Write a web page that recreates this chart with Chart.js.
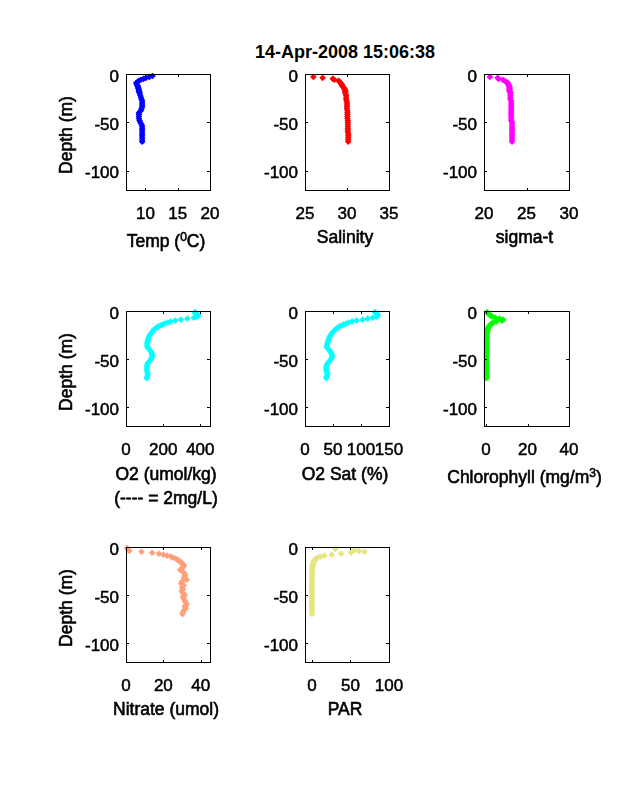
<!DOCTYPE html>
<html>
<head>
<meta charset="utf-8">
<script src="https://cdn.jsdelivr.net/npm/chart.js@4"></script>
<style>
body{margin:0;background:#fff;}
canvas{position:absolute;}
#figtitle{position:absolute;left:145px;width:400px;top:42px;text-align:center;font:bold 18px "Liberation Sans";color:#000;}
.xlabel{position:absolute;width:240px;text-align:center;font:17.5px/24px "Liberation Sans";color:#000;-webkit-text-stroke:0.6px #000;white-space:nowrap;}
.xlabel sup{font-size:12px;line-height:0;vertical-align:6px;}
.ylabel{transform:rotate(-90deg);}
</style>
</head>
<body>
<div id="figtitle">14-Apr-2008 15:06:38</div>
<script>
var depths = [-1,-2,-3,-4,-5,-6,-7,-8,-9,-10,-11,-12,-13,-14,-15,-16,-17,-18,-19,-20,-22,-24,-26,-28,-30,-32,-34,-36,-38,-40,-42,-44,-46,-48,-50,-52,-54,-56,-58,-60,-62,-64,-66,-68,-70];
var depthTicks = [-100,-50,0];

var temp = [null,11.1,10.6,10.1,9.7,9.3,9.0,8.8,8.6,8.6,8.7,8.8,8.8,8.9,8.9,9.0,9.0,9.0,9.1,9.1,9.2,9.3,9.4,9.5,9.5,9.5,9.5,9.4,9.3,9.0,9.0,9.0,9.0,9.1,9.2,9.4,9.5,9.5,9.5,9.5,9.5,9.5,9.5,9.5,9.5];
var salinity = [null,null,26.0,27.1,28.3,28.5,29.0,29.1,29.2,29.3,29.4,29.4,29.5,29.6,29.7,29.7,29.8,29.8,29.8,29.8,29.9,29.9,29.9,29.95,30.0,30.0,30.0,30.0,30.05,30.05,30.05,30.05,30.05,30.1,30.1,30.1,30.1,30.1,30.1,30.1,30.15,30.15,30.15,30.15,30.15];
var sigmaT = [null,null,20.7,21.6,21.7,22.2,22.4,22.6,22.8,22.8,22.9,22.9,23.0,23.0,23.0,23.0,23.0,23.0,23.1,23.1,23.1,23.1,23.1,23.2,23.2,23.2,23.2,23.2,23.2,23.2,23.2,23.2,23.2,23.2,23.3,23.3,23.3,23.3,23.3,23.3,23.3,23.3,23.3,23.3,23.3];
var o2 = [372,371,378,385,389,380,365,330,295,265,240,225,210,198,188,175,168,160,153,148,140,132,126,121,118,116,114,113,116,124,134,139,140,139,136,128,118,114,113,112,113,115,117,115,112];
var o2Sat = [125,126,128,130,130,127,121,112,103,92,84,78,73,69,66,62,60,57,55,53,50,47,45,43,42,41,40,39,39,42,45,47,48,48,47,44,41,39,38,38,38,39,40,39,38];
var chl = [0.5,0.8,1.2,1.7,2.3,3.2,4.5,6.5,8.2,7.6,5.0,3.5,2.8,2.2,1.8,1.4,1.1,0.9,0.8,0.7,0.6,0.5,0.4,0.4,0.3,0.3,0.3,0.3,0.3,0.3,0.3,0.2,0.2,0.2,0.2,0.2,0.2,0.2,0.2,0.2,0.2,0.2,0.2,0.2,0.2];
var nitrate = [0.5,0.8,1.2,1.8,8.3,14.0,17.6,20.0,22.0,24.0,25.0,26.5,27.5,28.0,28.8,29.5,30.0,30.6,30.8,31.0,30.0,29.0,30.5,31.5,31.5,31.0,32.5,30.0,29.5,31.0,30.0,30.5,29.8,30.5,31.5,30.5,31.0,31.5,32.0,32.5,31.5,32.0,31.0,30.5,30.3];
var par = [null,30.5,55,61,68,50.7,37.8,25.7,16.3,11,7.7,5.5,4.2,3.2,2.5,2.0,1.6,1.2,1.0,0.8,0.5,0.3,0.2,0.1,0.1,0.1,0,0,0,0,0,0,0,0,0,0,0,0,0,0,0,0,0,0,0];

var lefts = [126,305,484];
var tops = [74,311,547];
var widths = [84,84,85];
var heights = [116,115,115];

var panels = [
	{col:0,row:0,vals:temp,color:"#0000ff",label:"Temp (<sup>0</sup>C)",min:7,max:20,ticks:[10,15,20],labelY:241},
	{col:1,row:0,vals:salinity,color:"#ff0000",label:"Salinity",min:25,max:35,ticks:[25,30,35],labelY:237},
	{col:2,row:0,vals:sigmaT,color:"#ff00ff",label:"sigma-t",min:20,max:30,ticks:[20,25,30],labelY:237},
	{col:0,row:1,vals:o2,color:"#00ffff",label:"O2 (umol/kg)<br>(---- = 2mg/L)",min:0,max:452,ticks:[0,200,400],labelY:474},
	{col:1,row:1,vals:o2Sat,color:"#00ffff",label:"O2 Sat (%)",min:0,max:150,ticks:[0,50,100,150],labelY:474},
	{col:2,row:1,vals:chl,color:"#00ff00",label:"Chlorophyll (mg/m<sup>3</sup>)",min:-1,max:40,ticks:[0,20,40],labelY:477},
	{col:0,row:2,vals:nitrate,color:"#ffa07a",label:"Nitrate (umol)",min:0,max:45,ticks:[0,20,40],labelY:709},
	{col:1,row:2,vals:par,color:"#e6e680",label:"PAR",min:-9,max:100,ticks:[0,50,100],labelY:709}
];

var fontFam = "'Liberation Sans'";
var marginL = 80, marginT = 10, marginR = 40, marginB = 40;

// inward tick marks on all four sides plus the box
var boxPlugin = {
	id:"box",
	beforeDraw:function(chart){
		// matlab prints the y labels a bit under the tick
		chart.scales.y.getLabelItems(chart.chartArea).forEach(function(it){
			if(!it.moved){ it.options.translation[1]+=3; it.moved=true; }
		});
	},
	afterDraw:function(chart){
		var a = chart.chartArea, c = chart.ctx;
		c.save();
		c.strokeStyle = "#000";
		c.lineWidth = 1;
		c.strokeRect(a.left+0.5,a.top+0.5,a.right-a.left,a.bottom-a.top);
		c.beginPath();
		chart.scales.x.ticks.forEach(function(t){
			var px = Math.round(chart.scales.x.getPixelForValue(t.value))+0.5;
			c.moveTo(px,a.bottom); c.lineTo(px,a.bottom-2);
			c.moveTo(px,a.top); c.lineTo(px,a.top+3);
		});
		chart.scales.y.ticks.forEach(function(t){
			var py = Math.round(chart.scales.y.getPixelForValue(t.value))+0.5;
			c.moveTo(a.left,py); c.lineTo(a.left+3,py);
			c.moveTo(a.right,py); c.lineTo(a.right-3,py);
		});
		c.stroke();
		c.restore();
	}
};

function setTicks(list){
	return function(scale){
		scale.ticks = list.map(function(v){ return {value:v}; });
	};
}

// stop the tick labels from pushing the plot area in
function fixSize(prop,size){
	return function(s){
		s[prop] = size;
		s.paddingTop = s.paddingBottom = s.paddingLeft = s.paddingRight = 0;
	};
}

function addLabel(html,cx,cy,cls){
	var lab = document.createElement("div");
	lab.className = cls;
	lab.innerHTML = html;
	lab.style.left = (cx-120)+"px";
	lab.style.top = (cy-12)+"px";
	document.body.appendChild(lab);
}

panels.forEach(function(p){
	var w = widths[p.col], h = heights[p.row];
	var cv = document.createElement("canvas");
	cv.style.left = (lefts[p.col]-marginL)+"px";
	cv.style.top = (tops[p.row]-marginT)+"px";
	cv.width = w+marginL+marginR;
	cv.height = h+marginT+marginB;
	document.body.appendChild(cv);

	// chart.js squeezes axis titles to the plot width, so these are plain divs
	addLabel(p.label,lefts[p.col]+w/2-2,p.labelY,"xlabel");
	if(p.col==0) addLabel("Depth (m)",66,tops[p.row]+h/2+3,"xlabel ylabel");

	var pts = [];
	depths.forEach(function(d,i){
		if(p.vals[i]!==null) pts.push({x:p.vals[i],y:d});
	});

	new Chart(cv,{
		type:"scatter",
		data:{datasets:[{data:pts,backgroundColor:p.color,borderWidth:0,pointStyle:"rectRot",pointRadius:3.3,pointHoverRadius:3.3,clip:false}]},
		plugins:[boxPlugin],
		options:{
			responsive:false,
			animation:false,
			devicePixelRatio:1,
			layout:{padding:{left:0,top:marginT,right:marginR,bottom:0}},
			plugins:{legend:{display:false},tooltip:{enabled:false}},
			scales:{
				x:{
					type:"linear",min:p.min,max:p.max,bounds:"data",
					grid:{display:false,drawTicks:false},
					border:{display:false},
					afterBuildTicks:setTicks(p.ticks),
					afterFit:fixSize("height",marginB),
					ticks:{autoSkip:false,maxRotation:0,padding:14,color:"#000",textStrokeWidth:0.5,textStrokeColor:"#000",font:{family:fontFam,size:17},callback:function(v){return String(v);}}
				},
				y:{
					type:"linear",min:-120,max:0,bounds:"data",
					grid:{display:false,drawTicks:false},
					border:{display:false},
					afterBuildTicks:setTicks(depthTicks),
					afterFit:fixSize("width",marginL),
					ticks:{autoSkip:false,padding:7,color:"#000",textStrokeWidth:0.5,textStrokeColor:"#000",font:{family:fontFam,size:17},callback:function(v){return String(v);}}
				}
			}
		}
	});
});
</script>
</body>
</html>
